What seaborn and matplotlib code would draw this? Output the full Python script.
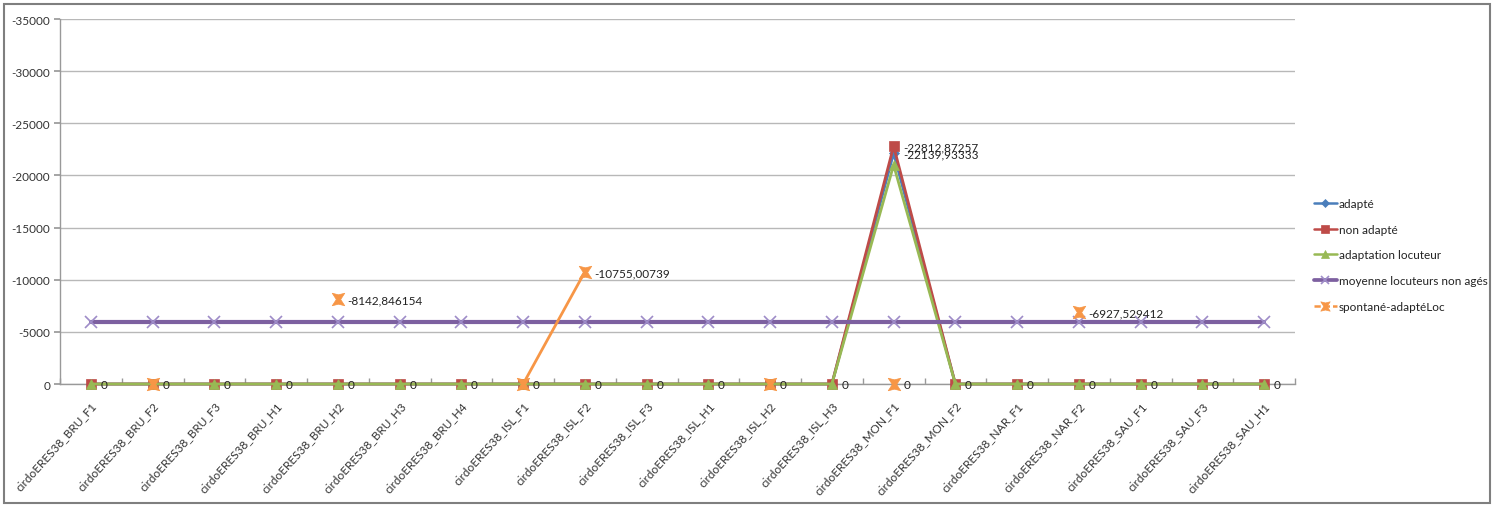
import numpy as np
import pandas as pd
import seaborn as sns
import matplotlib.pyplot as plt
from matplotlib.lines import Line2D
from matplotlib.path import Path
from matplotlib.patches import Rectangle

speakers = ['BRU_F1', 'BRU_F2', 'BRU_F3', 'BRU_H1', 'BRU_H2', 'BRU_H3', 'BRU_H4',
            'ISL_F1', 'ISL_F2', 'ISL_F3', 'ISL_H1', 'ISL_H2', 'ISL_H3',
            'MON_F1', 'MON_F2', 'NAR_F1', 'NAR_F2', 'SAU_F1', 'SAU_F3', 'SAU_H1']
categories = ['cirdoERES38_' + s for s in speakers]

nan = np.nan
adapte = [0, 0, 0, 0, 0, 0, 0, 0, 0, 0, 0, 0, 0, -22139.93333, 0, 0, 0, 0, 0, 0]
non_adapte = [0, 0, 0, 0, 0, 0, 0, 0, 0, 0, 0, 0, 0, -22812.87257, 0, 0, 0, 0, 0, 0]
adapt_loc = [0, 0, 0, 0, 0, 0, 0, 0, 0, 0, 0, 0, 0, -21000, 0, 0, 0, 0, 0, 0]
moyenne = [-5932] * 20
spontane = [nan, 0, nan, nan, -8142.846154, nan, nan, 0, -10755.00739, nan,
            nan, 0, nan, 0, nan, nan, -6927.529412, nan, nan, nan]


def fmt(v):
    if v == 0:
        return '0'
    return ('%.10g' % v).replace('.', ',')


# bold "X" marker with flat top and bottom, like Excel's
xmark = Path([(-1, 1), (0, 0.75), (1, 1), (0.35, 0), (1, -1), (0, -0.75), (-1, -1), (-0.35, 0), (-1, 1)],
             [Path.MOVETO] + [Path.LINETO] * 7 + [Path.CLOSEPOLY])

series = [
    # name, values, line color, marker, marker color, msize, lw, labels
    ('adapté', adapte, '#4A7EBB', 'D', '#4A7EBB', 5, 2.0, True),
    ('non adapté', non_adapte, '#BE4B48', 's', '#BE4B48', 7.5, 2.0, True),
    ('adaptation locuteur', adapt_loc, '#98B954', '^', '#98B954', 7.5, 2.0, False),
    ('moyenne locuteurs non agés', moyenne, '#7D60A0', 'x', '#9E8CC8', 8, 3.0, False),
    ('spontané-adaptéLoc', spontane, '#F79646', xmark, '#F79646', 9, 2.0, True),
]

sns.set_theme(style='white')
plt.rcParams['font.family'] = ['Lato', 'DejaVu Sans']

fig = plt.figure(figsize=(14.96, 5.06), dpi=100)
ax = fig.add_axes([60 / 1496, 1 - 385 / 506, 1235 / 1496, 365 / 506])

x = np.arange(len(categories))
labelled = set()
handles = []
for name, vals, col, mk, mcol, ms, lw, lab in series:
    mew = 1.2 if mk == 'x' else 0.5
    df = pd.DataFrame({'x': x, 'y': vals})
    ok = df['y'].notna()
    run = (~ok).cumsum()
    for _, seg in df[ok].groupby(run[ok]):
        sns.lineplot(data=seg, x='x', y='y', color=col, lw=lw, marker=mk, ms=ms,
                     mec=mcol, mfc=mcol, mew=mew, ax=ax, legend=False, zorder=3,
                     clip_on=False)
    if lab:
        for xi, v in zip(x, vals):
            if np.isnan(v):
                continue
            txt = fmt(v)
            if (xi, txt) in labelled:
                continue
            labelled.add((xi, txt))
            ax.annotate(txt, (xi, v), xytext=(7, -0.5), textcoords='offset points',
                        va='center', ha='left', fontsize=8.5, color='#222222', zorder=5)
    handles.append(Line2D([0], [0], color=col, lw=lw * 0.9, marker=mk, ms=ms * 0.75,
                          mec=mcol, mfc=mcol, mew=mew,
                          ls=(0, (2.5, 1.2)) if name.startswith('spontané') else '-'))

ax.set_xlim(-0.5, len(categories) - 0.5)
ax.set_ylim(0, -35000)
yt = np.arange(0, -35001, -5000)
ax.set_yticks(yt)
ax.set_yticklabels([str(int(t)) for t in yt], fontsize=8.5, color='#333333')
ax.set_xticks(x)
ax.set_xticklabels(categories, rotation=48, ha='right', rotation_mode='anchor',
                   fontsize=8.5, color='#333333')
ax.set_xticks(np.arange(-0.5, len(categories), 1), minor=True)
ax.tick_params(axis='x', which='major', length=0, pad=11)
ax.tick_params(axis='x', which='minor', length=4, color='#999999', direction='in', bottom=True)
ax.tick_params(axis='y', length=4, color='#999999', direction='out', left=True, pad=3)
ax.set_xlabel('')
ax.set_ylabel('')
ax.grid(axis='y', color='#B8B8B8', lw=1)
ax.grid(axis='x', visible=False)
for s in ['top', 'right']:
    ax.spines[s].set_visible(False)
for s in ['left', 'bottom']:
    ax.spines[s].set_color('#999999')
    ax.spines[s].set_linewidth(1)

fig.legend(handles, [s[0] for s in series], loc='center left',
           bbox_to_anchor=(1303 / 1496, 1 - 256 / 506), frameon=False,
           fontsize=8.5, labelspacing=1.25, handlelength=2.0, handletextpad=0.15,
           labelcolor='#222222')

fig.patches.append(Rectangle((4 / 1496, 2 / 506), 1486 / 1496, 499 / 506, transform=fig.transFigure,
                             fill=False, edgecolor='#7F7F7F', lw=1.5))

fig.savefig('out.png', dpi=100)
